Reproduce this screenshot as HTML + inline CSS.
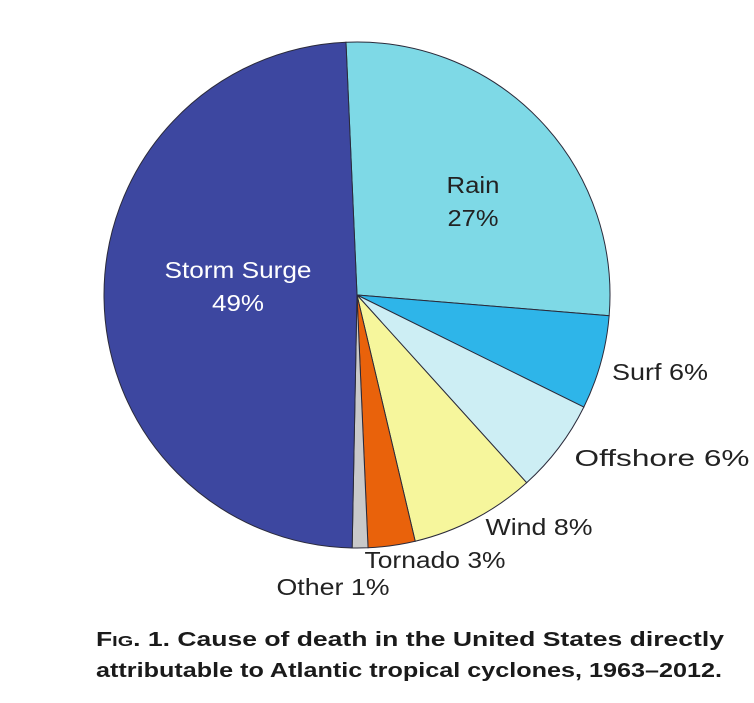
<!DOCTYPE html>
<html><head><meta charset="utf-8"><style>
html,body{margin:0;padding:0;background:#fff;}
svg{display:block;font-family:"Liberation Sans","DejaVu Sans",sans-serif;}
</style></head><body>
<svg id="chart" width="754" height="703" viewBox="0 0 754 703">
<g id="slices"></g>
<g id="labels"></g>
<text x="96" y="646" font-size="20" font-weight="bold" fill="#1a1a1a" textLength="628" lengthAdjust="spacingAndGlyphs">F<tspan font-size="15">IG</tspan>. 1. Cause of death in the United States directly</text>
<text x="96" y="677" font-size="20" font-weight="bold" fill="#1a1a1a" textLength="626" lengthAdjust="spacingAndGlyphs">attributable to Atlantic tropical cyclones, 1963–2012.</text>
</svg>
<script>
const categories = ["Rain","Surf","Offshore","Wind","Tornado","Other","Storm Surge"];
const values = [27,6,6,8,3,1,49];
const colors = ["#7ed9e6","#2eb5e9","#cdeef4","#f6f69c","#e9620b","#c9c9c9","#3d47a0"];
const labelText = ["Rain\n27%","Surf 6%","Offshore 6%","Wind 8%","Tornado 3%","Other 1%","Storm Surge\n49%"];
const cx=357, cy=295, r=253, startDeg=-2.5;
const NS="http://www.w3.org/2000/svg";
const total=values.reduce((a,b)=>a+b,0);
const sg=document.getElementById('slices'), lg=document.getElementById('labels');
function pt(deg,rad){const a=(deg-90)*Math.PI/180;return [cx+rad*Math.cos(a),cy+rad*Math.sin(a)];}
const labelPos=[[473,193,"#222",[53,51]],[660,380,"#222",[96]],[662,466,"#222",[175]],[539,535,"#222",[107]],[435,568,"#222",[141]],[333,595,"#222",[113]],[238,278,"#fff",[147,52]]];
let ang=startDeg;
values.forEach((v,i)=>{
  const sweep=v/total*360;
  const p1=pt(ang,r), p2=pt(ang+sweep,r);
  const path=document.createElementNS(NS,'path');
  path.setAttribute('d',`M${cx},${cy} L${p1[0]},${p1[1]} A${r},${r} 0 ${sweep>180?1:0} 1 ${p2[0]},${p2[1]} Z`);
  path.setAttribute('fill',colors[i]);
  path.setAttribute('stroke','#2a2a3a');
  path.setAttribute('stroke-width','1');
  
  
  sg.appendChild(path);
  const lp=labelPos[i];
  labelText[i].split('\n').forEach((line,j)=>{
    const t=document.createElementNS(NS,'text');
    const w=lp[3][j];
    t.setAttribute('x',lp[0]-w/2);t.setAttribute('y',lp[1]+j*33);
    t.setAttribute('fill',lp[2]);
    t.setAttribute('font-size','23');
    t.setAttribute('textLength',w);
    t.setAttribute('lengthAdjust','spacingAndGlyphs');
    
    
    t.textContent=line;
    lg.appendChild(t);
  });
  ang+=sweep;
});
</script>
</body></html>
